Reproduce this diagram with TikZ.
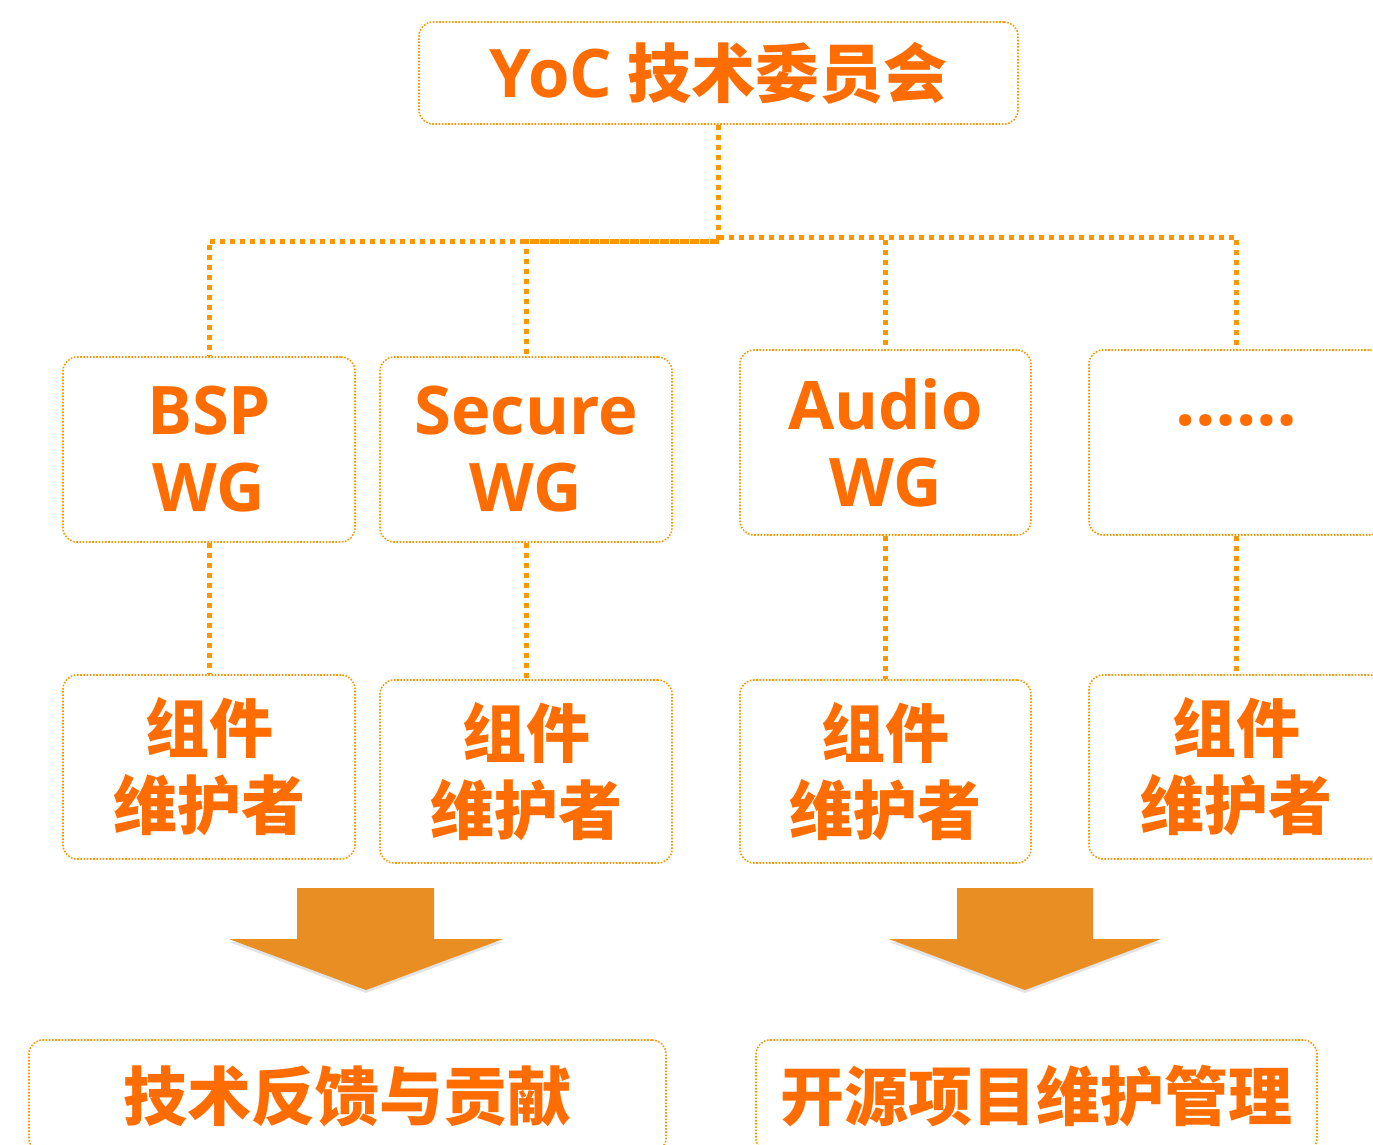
\documentclass[tikz,border=0pt]{standalone}
\usepackage{fontspec}
\newfontfamily\latinf{Open Sans}
\newfontfamily\cjkf{Noto Sans CJK SC}
\usetikzlibrary{shadows}
\definecolor{txt}{RGB}{255,108,0}
\definecolor{ln}{RGB}{255,150,0}
\definecolor{arr}{RGB}{233,142,34}
\newcommand{\lat}[1]{{\latinf\fontsize{67}{77}\selectfont #1}}
\begin{document}
\begin{tikzpicture}[x=1pt,y=-1pt,
  box/.style={draw=ln, line width=1.6pt, dash pattern=on 1.6pt off 1.6pt,
    rounded corners=14pt, inner sep=0pt, text=txt, align=center,
    font=\cjkf\bfseries\fontsize{64}{77}\selectfont},
  conn/.style={draw=ln, line width=5pt, dash pattern=on 5pt off 5pt},
  bigarrow/.style={fill=arr, draw=none,
    drop shadow={opacity=0.22, shadow xshift=0pt, shadow yshift=-3pt}}]
\useasboundingbox (0,0) rectangle (1373,1144);
\clip (0,0) rectangle (1373,1144);
\fill[white] (0,0) rectangle (1373,1144);

% top
\node[box, minimum width=599pt, minimum height=102pt] (top) at (718.5,73) {\lat{YoC} 技术委员会};

% working groups
\node[box, minimum width=292pt, minimum height=185pt] (bsp) at (209,449.5) {\lat{BSP}\\\lat{WG}};
\node[box, minimum width=292pt, minimum height=185pt] (sec) at (526,449.5) {\lat{Secure}\\\lat{WG}};
\node[box, minimum width=291pt, minimum height=185pt] (aud) at (885.5,442.5) {\lat{Audio}\\\lat{WG}};
\node[box, minimum width=294pt, minimum height=185pt] (more) at (1236,442.5) {};
\node[text=txt, font=\latinf\bfseries\fontsize{71}{77}\selectfont, inner sep=0pt] (moretxt) at (1236,421) {……};

% maintainers
\node[box, minimum width=292pt, minimum height=184pt] (m1) at (209,767) {组件\\维护者};
\node[box, minimum width=292pt, minimum height=183pt] (m2) at (526,771.5) {组件\\维护者};
\node[box, minimum width=291pt, minimum height=183pt] (m3) at (885.5,771.5) {组件\\维护者};
\node[box, minimum width=294pt, minimum height=184pt] (m4) at (1236,767) {组件\\维护者};

% bottom
\node[box, minimum width=637pt, minimum height=112pt] (fb) at (347.5,1096) {技术反馈与贡献};
\node[box, minimum width=561pt, minimum height=112pt] (om) at (1036.5,1096) {开源项目维护管理};

% connectors
\coordinate (busL) at (0,241);
\coordinate (busR) at (0,237);
\draw[conn] (top.south) -- (top.south |- busL) -| (bsp.north);
\draw[conn] (top.south |- busL) -| (sec.north);
\draw[conn] (top.south |- busR) -| (aud.north);
\draw[conn] (top.south |- busR) -| (more.north);
\draw[conn] (bsp.south) -- (m1.north);
\draw[conn] (sec.south) -- (m2.north);
\draw[conn] (aud.south) -- (m3.north);
\draw[conn] (more.south) -- (m4.north);

% big arrows
\path[bigarrow] (297,888) -- (434,888) -- (434,939) -- (503,939) -- (366,990) -- (229,939) -- (297,939) -- cycle;
\path[bigarrow] (957,888) -- (1093,888) -- (1093,939) -- (1161,939) -- (1025,990) -- (889,939) -- (957,939) -- cycle;
\end{tikzpicture}
\end{document}
